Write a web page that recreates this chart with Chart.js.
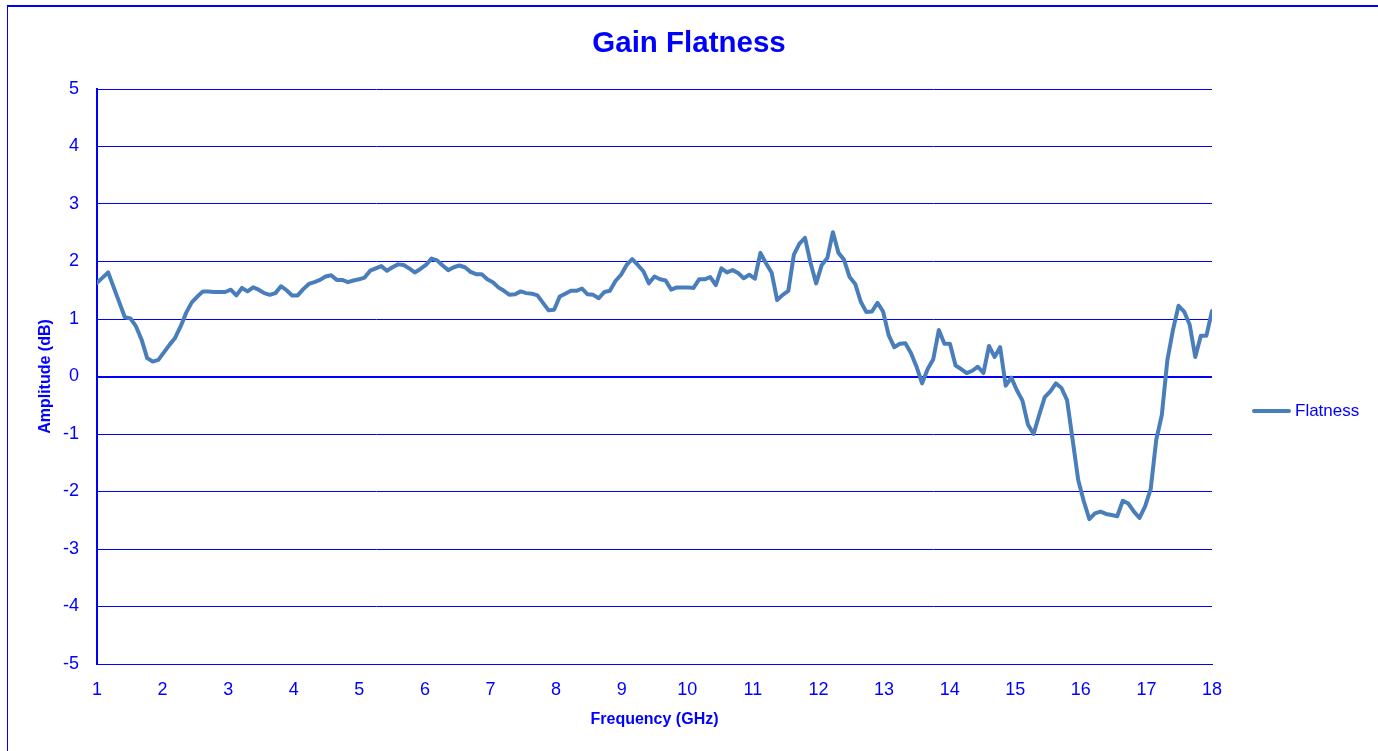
<!DOCTYPE html>
<html>
<head>
<meta charset="utf-8">
<title>Gain Flatness</title>
<script src="https://cdn.jsdelivr.net/npm/chart.js@4.4.1/dist/chart.umd.min.js"></script>
<style>
    body { margin: 0; background: #fff; }
    #wrap { position: relative; width: 1378px; height: 751px; overflow: hidden; }
    #frame { position: absolute; left: 7px; top: 5px; width: 1400px; height: 800px;
             border-top: 2px solid #0000FF; border-left: 1px solid #0000FF; }
    #legend { position: absolute; left: 1252px; top: 399px; height: 24px;
              font: 17px 'Liberation Sans', Arial, sans-serif; color: #0000FF;
              display: flex; align-items: center; }
    #legend .swatch { width: 39px; height: 4px; background: #4A7EBB; border-radius: 2px; margin-right: 4px; }
</style>
</head>
<body>
<div id="wrap">
    <div id="frame"></div>
    <canvas id="gainChart" width="1378" height="751"></canvas>
    <div id="legend"><span class="swatch"></span><span>Flatness</span></div>
</div>
<script>
// sweep: 201 samples from 1 GHz, one every 0.085 GHz
const freqStart = 1;
const freqStep = 0.085;

// gain flatness (dB)
const flatness = [
    1.63, 1.72, 1.81, 1.55, 1.29, 1.03, 1.01, 0.87, 0.64, 0.32,
    0.26, 0.29, 0.42, 0.55, 0.67, 0.87, 1.11, 1.29, 1.39, 1.48,
    1.48, 1.47, 1.47, 1.47, 1.51, 1.41, 1.54, 1.48, 1.55, 1.51,
    1.45, 1.42, 1.45, 1.57, 1.50, 1.41, 1.41, 1.52, 1.61, 1.64,
    1.68, 1.74, 1.76, 1.68, 1.68, 1.64, 1.67, 1.69, 1.72, 1.84,
    1.88, 1.92, 1.84, 1.90, 1.95, 1.94, 1.88, 1.81, 1.87, 1.94,
    2.05, 2.02, 1.93, 1.85, 1.90, 1.93, 1.90, 1.82, 1.78, 1.78,
    1.69, 1.64, 1.55, 1.49, 1.42, 1.43, 1.48, 1.45, 1.44, 1.41,
    1.28, 1.15, 1.16, 1.39, 1.44, 1.49, 1.49, 1.53, 1.43, 1.42,
    1.36, 1.47, 1.49, 1.66, 1.77, 1.94, 2.04, 1.94, 1.83, 1.62,
    1.74, 1.69, 1.67, 1.51, 1.55, 1.55, 1.55, 1.54, 1.69, 1.69,
    1.73, 1.59, 1.88, 1.81, 1.85, 1.80, 1.71, 1.77, 1.70, 2.15,
    1.97, 1.81, 1.33, 1.42, 1.49, 2.12, 2.31, 2.41, 1.97, 1.62,
    1.94, 2.06, 2.51, 2.15, 2.03, 1.73, 1.61, 1.30, 1.12, 1.13,
    1.28, 1.13, 0.72, 0.51, 0.57, 0.58, 0.41, 0.17, -0.12, 0.13,
    0.30, 0.81, 0.57, 0.57, 0.19, 0.13, 0.06, 0.10, 0.17, 0.06,
    0.53, 0.34, 0.51, -0.16, -0.02, -0.24, -0.42, -0.84, -1.00, -0.67,
    -0.36, -0.26, -0.12, -0.20, -0.41, -1.10, -1.80, -2.17, -2.48, -2.38,
    -2.35, -2.39, -2.41, -2.43, -2.16, -2.21, -2.35, -2.46, -2.26, -1.96,
    -1.10, -0.67, 0.29, 0.81, 1.23, 1.13, 0.90, 0.34, 0.71, 0.71,
    1.14
];

// axis ranges / tick labels
const xTicks = [1, 2, 3, 4, 5, 6, 7, 8, 9, 10, 11, 12, 13, 14, 15, 16, 17, 18];
const yTicks = [-5, -4, -3, -2, -1, 0, 1, 2, 3, 4, 5];

const BLUE = '#0000FF';
Chart.defaults.font.family = "'Liberation Sans', Arial, sans-serif";

const points = flatness.map((v, i) => ({ x: freqStart + i * freqStep, y: v }));

new Chart(document.getElementById('gainChart'), {
    type: 'line',
    data: {
        datasets: [{
            label: 'Flatness',
            data: points,
            borderColor: '#4A7EBB',
            backgroundColor: '#4A7EBB',
            borderWidth: 4,
            pointRadius: 0,
            tension: 0,
            borderJoinStyle: 'round',
            borderCapStyle: 'round'
        }]
    },
    options: {
        responsive: false,
        animation: false,
        devicePixelRatio: 1,
        layout: { padding: 0 },
        plugins: {
            legend: { display: false },
            tooltip: { enabled: false },
            title: {
                display: true,
                text: 'Gain Flatness',
                color: BLUE,
                font: { size: 29.5, weight: 'bold' },
                padding: { top: 26, bottom: 27.6 }
            }
        },
        scales: {
            x: {
                type: 'linear',
                min: xTicks[0],
                max: xTicks[xTicks.length - 1],
                afterBuildTicks: s => { s.ticks = xTicks.map(v => ({ value: v })); },
                ticks: { color: BLUE, font: { size: 18 }, padding: 15, maxRotation: 0, autoSkip: false },
                grid: { display: false, drawTicks: false },
                border: { color: BLUE, width: 1 },
                title: {
                    display: true,
                    text: 'Frequency (GHz)',
                    color: BLUE,
                    font: { size: 16, weight: 'bold' },
                    padding: { top: 0, bottom: 22 }
                },
                afterFit: s => { s.height = 87; }
            },
            y: {
                min: yTicks[0],
                max: yTicks[yTicks.length - 1],
                afterBuildTicks: s => { s.ticks = yTicks.map(v => ({ value: v })); },
                ticks: { color: BLUE, font: { size: 18 }, padding: 18 },
                grid: {
                    color: BLUE,
                    lineWidth: ctx => (ctx.tick && ctx.tick.value === 0 ? 2 : 1),
                    drawTicks: false
                },
                border: { color: BLUE, width: 2 },
                title: {
                    display: true,
                    text: 'Amplitude (dB)',
                    color: BLUE,
                    font: { size: 16, weight: 'bold' },
                    padding: { top: 36, bottom: 0 }
                },
                afterFit: s => { s.width = 97; }
            },
            // empty right-hand band that holds the legend space
            legendBand: {
                type: 'linear',
                position: 'right',
                display: true,
                grid: { display: false, drawTicks: false },
                border: { display: false },
                ticks: { display: false },
                afterFit: s => { s.width = 166; }
            }
        }
    }
});
</script>
</body>
</html>
